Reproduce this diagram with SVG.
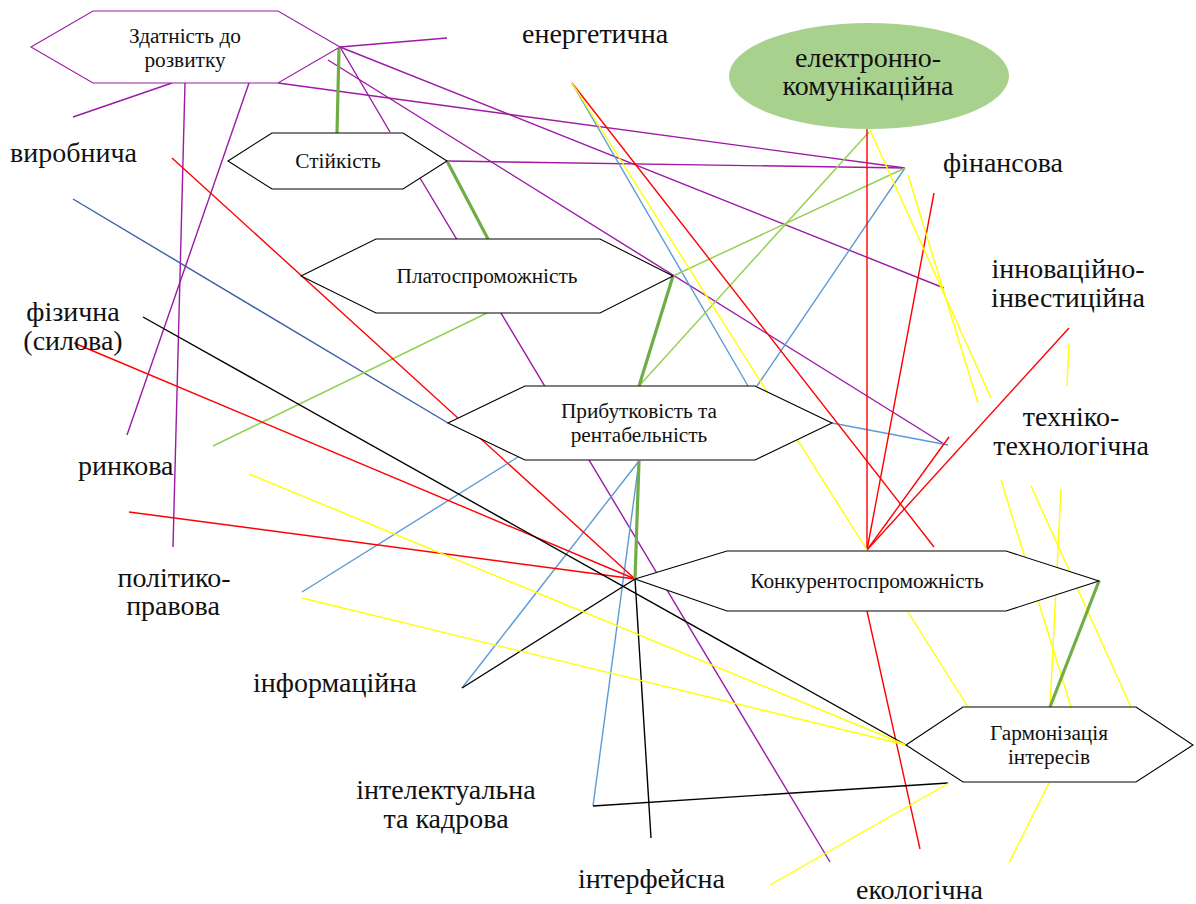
<svg xmlns="http://www.w3.org/2000/svg" width="1196" height="904" viewBox="0 0 1196 904">
<style>
.c line{stroke-width:1.4;fill:none}
.pu{stroke:#9C1AA6}
.re{stroke:#FF0000}
.ye{stroke:#FFFF00}
.lb{stroke:#5B9BD5}
.db{stroke:#3A5FA8}
.lg{stroke:#92D050}
.tg{stroke:#70AD47;stroke-width:3.2 !important}
.bk{stroke:#000000}
.hex{fill:#FFFFFF;stroke:#000000;stroke-width:1.1}
.nt{font-family:"Liberation Serif","Times New Roman",serif;font-size:21.3px;fill:#111;text-anchor:middle}
.lt{font-family:"Liberation Serif","Times New Roman",serif;font-size:28px;fill:#111}
.m{text-anchor:middle}
</style>
<rect width="1196" height="904" fill="#FFFFFF"/>
<g id="connectors" class="c">
<line class="pu" x1="340" y1="47" x2="447" y2="38"/>
<line class="pu" x1="340" y1="47" x2="944" y2="288"/>
<line class="pu" x1="328" y1="60" x2="944" y2="444"/>
<line class="pu" x1="278" y1="83" x2="905" y2="168"/>
<line class="pu" x1="340" y1="47" x2="390" y2="132"/>
<line class="pu" x1="447" y1="161" x2="905" y2="168"/>
<line class="pu" x1="420" y1="178" x2="830" y2="862"/>
<line class="pu" x1="185" y1="83" x2="173" y2="547"/>
<line class="pu" x1="249" y1="83" x2="127" y2="435"/>
<line class="pu" x1="172" y1="83" x2="73" y2="117"/>
<line class="db" x1="73" y1="199" x2="448" y2="423"/>
<line class="lb" x1="572" y1="83" x2="748" y2="386"/>
<line class="lb" x1="905" y1="168" x2="757" y2="386"/>
<line class="lb" x1="832" y1="423" x2="948" y2="445"/>
<line class="lb" x1="302" y1="592" x2="518" y2="457"/>
<line class="lb" x1="639" y1="461" x2="462" y2="688"/>
<line class="lb" x1="639" y1="461" x2="593" y2="806"/>
<line class="lg" x1="869" y1="132" x2="639" y2="386"/>
<line class="lg" x1="905" y1="168" x2="673" y2="276"/>
<line class="lg" x1="487" y1="313" x2="213" y2="446"/>
<line class="re" x1="572" y1="83" x2="934" y2="547"/>
<line class="re" x1="867" y1="129" x2="867" y2="550"/>
<line class="re" x1="867" y1="611" x2="920" y2="849"/>
<line class="re" x1="934" y1="193" x2="867" y2="550"/>
<line class="re" x1="1069" y1="328" x2="867" y2="550"/>
<line class="re" x1="949" y1="437" x2="867" y2="550"/>
<line class="re" x1="172" y1="158" x2="635" y2="579"/>
<line class="re" x1="74" y1="343" x2="635" y2="579"/>
<line class="re" x1="129" y1="512" x2="635" y2="579"/>
<line class="bk" x1="143" y1="317" x2="906" y2="745"/>
<line class="bk" x1="635" y1="579" x2="462" y2="688"/>
<line class="bk" x1="635" y1="579" x2="651" y2="838"/>
<line class="bk" x1="593" y1="806" x2="948" y2="783"/>
<line class="ye" x1="572" y1="83" x2="867" y2="550"/>
<line class="ye" x1="870" y1="130" x2="991" y2="398"/>
<line class="ye" x1="908" y1="175" x2="978" y2="403"/>
<line class="ye" x1="1069" y1="343" x2="1067" y2="386"/>
<line class="ye" x1="1001" y1="480" x2="1071" y2="707"/>
<line class="ye" x1="1031" y1="486" x2="1131" y2="707"/>
<line class="ye" x1="1061" y1="489" x2="1050" y2="707"/>
<line class="ye" x1="908" y1="612" x2="968" y2="707"/>
<line class="ye" x1="249" y1="474" x2="906" y2="745"/>
<line class="ye" x1="302" y1="598" x2="906" y2="745"/>
<line class="ye" x1="770" y1="885" x2="949" y2="783"/>
<line class="ye" x1="1049" y1="783" x2="1009" y2="863"/>
<line class="tg" x1="339" y1="48" x2="337" y2="133"/>
<line class="tg" x1="447" y1="161" x2="488" y2="239"/>
<line class="tg" x1="673" y1="276" x2="639" y2="386"/>
<line class="tg" x1="639" y1="461" x2="635" y2="579"/>
<line class="tg" x1="1099" y1="581" x2="1050" y2="707"/>
</g>
<g id="node-zdatnist">
<polygon class="hex" style="stroke:#9C1AA6" points="31,47 93,11 278,11 340,47 278,83 93,83"/>
<text class="nt" x="185" y="43">Здатність до</text>
<text class="nt" x="185" y="67">розвитку</text>
</g>
<g id="node-stiikist">
<polygon class="hex" points="228,161 272,133 403,133 447,161 403,189 272,189"/>
<text class="nt" x="338" y="168">Стійкість</text>
</g>
<g id="node-platosp">
<polygon class="hex" points="301,276 376,239 600,239 673,276 600,313 376,313"/>
<text class="nt" x="487" y="283">Платоспроможність</text>
</g>
<g id="node-prybutk">
<polygon class="hex" points="448,423 525,386 755,386 832,423 755,460 525,460"/>
<text class="nt" x="639" y="418">Прибутковість та</text>
<text class="nt" x="639" y="442">рентабельність</text>
</g>
<g id="node-konk">
<polygon class="hex" points="635,579 727,551 1006,551 1099,581 1006,611 727,611"/>
<text class="nt" x="867" y="588">Конкурентоспроможність</text>
</g>
<g id="node-harm">
<polygon class="hex" points="906,745 963,707 1136,707 1193,745 1136,782 963,782"/>
<text class="nt" x="1049" y="740">Гармонізація</text>
<text class="nt" x="1049" y="764">інтересів</text>
</g>
<g id="node-elektr">
<ellipse cx="869" cy="76" rx="140" ry="53" fill="#A9D18E"/>
<text class="lt m" x="868" y="67">електронно-</text>
<text class="lt m" x="868" y="95">комунікаційна</text>
</g>
<g id="labels">
<text class="lt" x="522" y="43">енергетична</text>
<text class="lt" x="10" y="162">виробнича</text>
<text class="lt m" x="73" y="321">фізична</text>
<text class="lt m" x="73" y="350">(силова)</text>
<text class="lt" x="78" y="475">ринкова</text>
<text class="lt m" x="174" y="587">політико-</text>
<text class="lt m" x="173" y="615">правова</text>
<text class="lt" x="253" y="692">інформаційна</text>
<text class="lt m" x="446" y="799">інтелектуальна</text>
<text class="lt m" x="446" y="828">та кадрова</text>
<text class="lt" x="578" y="888">інтерфейсна</text>
<text class="lt" x="856" y="899">екологічна</text>
<text class="lt" x="943" y="172">фінансова</text>
<text class="lt m" x="1068" y="278">інноваційно-</text>
<text class="lt m" x="1068" y="307">інвестиційна</text>
<text class="lt m" x="1071" y="426">техніко-</text>
<text class="lt m" x="1071" y="455">технологічна</text>
</g>
</svg>
